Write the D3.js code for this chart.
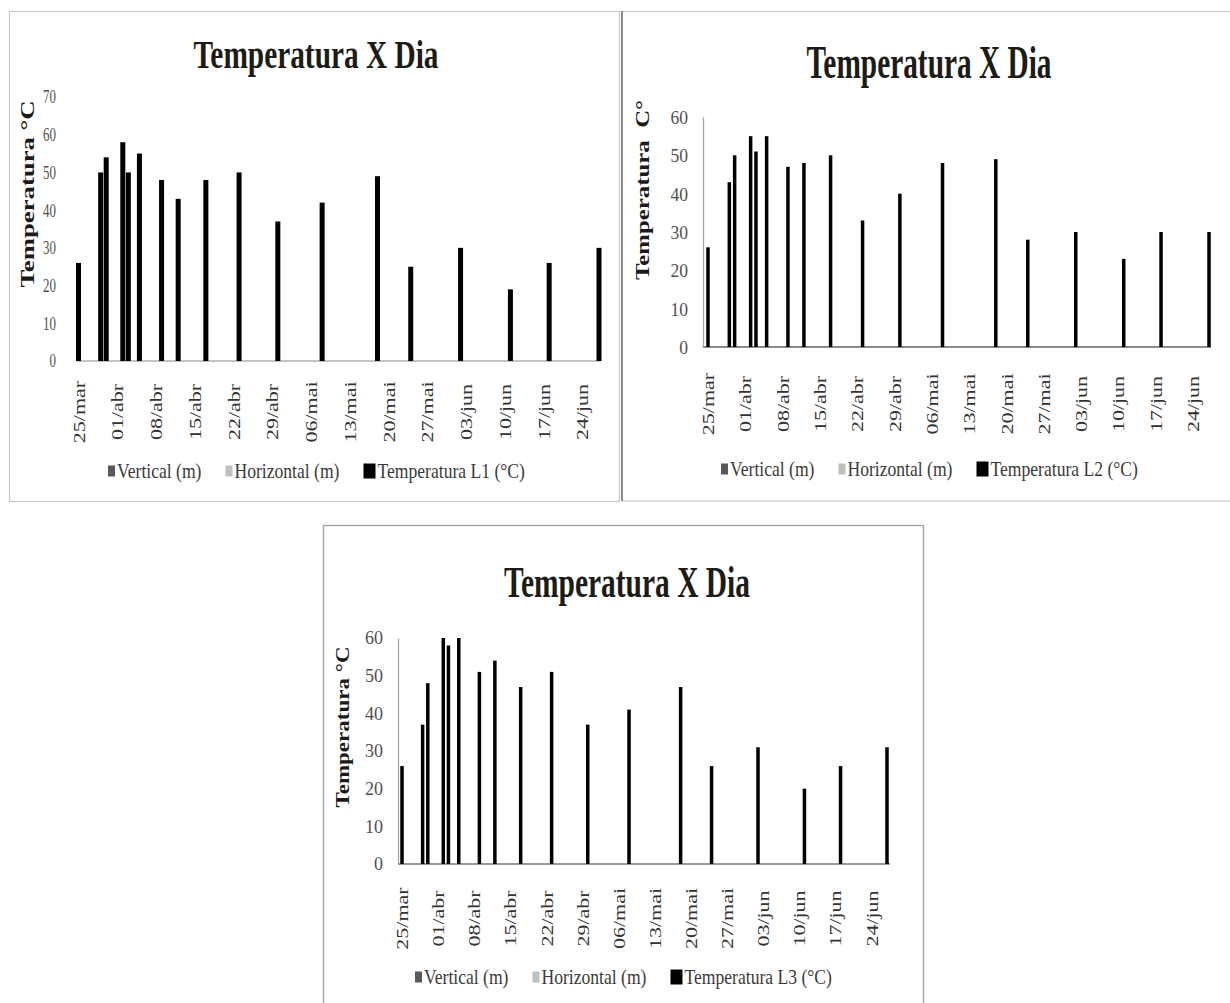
<!DOCTYPE html>
<html>
<head>
<meta charset="utf-8">
<script src="https://cdn.jsdelivr.net/npm/d3@7"></script>
<style>
  body { margin: 0; background: #fff; }
  svg { display: block; }
</style>
</head>
<body>
<svg id="fig" width="1230" height="1003"></svg>
<script>
// data
var meses = ["jan", "fev", "mar", "abr", "mai", "jun", "jul", "ago", "set", "out", "nov", "dez"];
var dias = ["25/mar", "29/mar", "30/mar", "02/abr", "03/abr", "05/abr", "09/abr", "12/abr", "17/abr",
            "23/abr", "30/abr", "08/mai", "18/mai", "24/mai", "02/jun", "11/jun", "18/jun", "27/jun"];
var tempL1 = [26, 50, 54, 58, 50, 55, 48, 43, 48, 50, 37, 42, 49, 25, 30, 19, 26, 30];
var tempL2 = [26, 43, 50, 55, 51, 55, 47, 48, 50, 33, 40, 48, 49, 28, 30, 23, 30, 30];
var tempL3 = [26, 37, 48, 60, 58, 60, 51, 54, 47, 51, 37, 41, 47, 26, 31, 20, 26, 31];
var tickLabels = ["25/mar", "01/abr", "08/abr", "15/abr", "22/abr", "29/abr", "06/mai", "13/mai",
                  "20/mai", "27/mai", "03/jun", "10/jun", "17/jun", "24/jun"];
var yTicks70 = [0, 10, 20, 30, 40, 50, 60, 70];
var yTicks60 = [0, 10, 20, 30, 40, 50, 60];
var legendL1 = ["Vertical (m)", "Horizontal (m)", "Temperatura L1 (°C)"];
var legendL2 = ["Vertical (m)", "Horizontal (m)", "Temperatura L2 (°C)"];
var legendL3 = ["Vertical (m)", "Horizontal (m)", "Temperatura L3 (°C)"];
var legendColors = ["#595959", "#bfbfbf", "#000000"];
var chartTitle = "Temperatura X Dia";

var SERIF = "'Liberation Serif', 'Times New Roman', serif";
var svg = d3.select("#fig");

function parseDia(s) {
    var p = s.split("/");
    return new Date(2013, meses.indexOf(p[1]), +p[0]);
}

// panel frames
svg.append("rect").attr("x", 9.5).attr("y", 11.5).attr("width", 610).attr("height", 490)
    .attr("fill", "none").attr("stroke", "#c8c8c8").attr("stroke-width", 1.2);
svg.append("rect").attr("x", 622).attr("y", 11.5).attr("width", 620).attr("height", 489.5)
    .attr("fill", "none").attr("stroke", "#c8c8c8").attr("stroke-width", 1.2);
svg.append("line").attr("x1", 622).attr("x2", 622).attr("y1", 11).attr("y2", 501)
    .attr("stroke", "#8c8c8c").attr("stroke-width", 2);
svg.append("rect").attr("x", 323.5).attr("y", 525.5).attr("width", 600).attr("height", 500)
    .attr("fill", "none").attr("stroke", "#a6a6a6").attr("stroke-width", 1.4);

function drawChart(cfg) {
    var g = svg.append("g");

    var x = d3.scaleTime()
        .domain([parseDia(dias[0]), parseDia(dias[dias.length - 1])])
        .range([cfg.barX0, cfg.barX1]);
    var y = d3.scaleLinear().domain([0, cfg.yMax]).range([cfg.y0, cfg.yTop]);

    // title
    g.append("text")
        .attr("x", cfg.titleX).attr("y", cfg.titleY)
        .attr("text-anchor", "middle")
        .attr("font-family", SERIF).attr("font-weight", "bold")
        .attr("font-size", cfg.titleSize)
        .attr("textLength", cfg.titleLen).attr("lengthAdjust", "spacingAndGlyphs")
        .attr("fill", "#1c1c17")
        .text(chartTitle);

    // y axis
    var yAxis = g.append("g")
        .attr("transform", "translate(" + cfg.axisX0 + ",0)")
        .call(d3.axisLeft(y).tickValues(cfg.yTicks).tickSize(0).tickSizeOuter(0).tickFormat(d3.format("d")));
    if (cfg.yLine) {
        yAxis.select(".domain").attr("stroke", "#a6a6a6").attr("stroke-width", 1.3);
    } else {
        yAxis.select(".domain").remove();
    }
    yAxis.selectAll(".tick text")
        .attr("x", 0).attr("dy", "0.33em")
        .attr("transform", "translate(" + (-cfg.yLabelGap) + ",0) scale(" + cfg.yLabelSx + ",1)")
        .attr("font-family", SERIF).attr("font-size", cfg.yLabelSize)
        .attr("fill", "#505050");

    // x axis line and date labels
    g.append("line")
        .attr("x1", cfg.axisX0).attr("x2", cfg.axisX1)
        .attr("y1", y(0)).attr("y2", y(0))
        .attr("stroke", cfg.xLineColor).attr("stroke-width", cfg.xLineWidth);

    var xAxis = g.append("g")
        .attr("transform", "translate(0," + y(0) + ")")
        .call(d3.axisBottom(x)
            .tickValues(tickLabels.map(parseDia))
            .tickFormat(function(d, i) { return tickLabels[i]; })
            .tickSize(0).tickSizeOuter(0));
    xAxis.select(".domain").remove();
    xAxis.selectAll(".tick text")
        .attr("y", 0).attr("dy", "0.35em")
        .attr("text-anchor", "middle")
        .attr("transform", "translate(0," + cfg.xLabelMid + ") rotate(-90) scale(1,0.72)")
        .attr("font-family", SERIF).attr("font-size", 22)
        .attr("fill", "#333333");

    // bars
    g.selectAll("rect.bar")
        .data(cfg.values)
        .enter().append("rect")
        .attr("class", "bar")
        .attr("x", function(d, i) { return x(parseDia(dias[i])) - cfg.barW / 2; })
        .attr("y", function(d) { return y(d); })
        .attr("width", cfg.barW)
        .attr("height", function(d) { return y(0) - y(d); })
        .attr("fill", "#000");

    // y axis title
    g.append("text")
        .attr("transform", "translate(" + cfg.yTitleX + "," + cfg.yTitleY + ") rotate(-90)")
        .attr("dy", "0.35em")
        .attr("text-anchor", "middle")
        .attr("font-family", SERIF).attr("font-weight", "bold")
        .attr("font-size", cfg.yTitleSize)
        .attr("textLength", cfg.yTitleLen).attr("lengthAdjust", "spacingAndGlyphs")
        .attr("fill", "#1a1a1a")
        .style("white-space", "pre")
        .text(cfg.yTitle);

    // legend
    var lg = g.append("g"), cursor = cfg.legendX;
    cfg.legend.forEach(function(label, i) {
        var mw = i === 2 ? 12 : 7, mh = i === 2 ? 15 : 11;
        lg.append("rect")
            .attr("x", cursor).attr("y", cfg.legendY - 7 - mh / 2)
            .attr("width", mw).attr("height", mh)
            .attr("fill", legendColors[i]);
        var t = lg.append("text")
            .attr("transform", "translate(" + (cursor + mw + 2) + "," + cfg.legendY + ") scale(0.8,1)")
            .attr("font-family", SERIF).attr("font-size", 22)
            .attr("fill", "#3a3a3a")
            .text(label);
        cursor += mw + 2 + t.node().getComputedTextLength() * 0.8 + 24;
    });
}

drawChart({
    values: tempL1, yMax: 70, yTicks: yTicks70, legend: legendL1, yTitle: "Temperatura °C",
    axisX0: 77, axisX1: 600, barX0: 78.5, barX1: 599, y0: 361, yTop: 97, barW: 5,
    yLine: false, yLabelGap: 21, yLabelSx: 0.72, yLabelSize: 18,
    xLineColor: "#b0b0b0", xLineWidth: 1.5, xLabelMid: 51,
    titleX: 316, titleY: 68, titleSize: 41, titleLen: 245,
    yTitleX: 27, yTitleY: 194, yTitleSize: 19.5, yTitleLen: 187,
    legendX: 108, legendY: 478
});

drawChart({
    values: tempL2, yMax: 60, yTicks: yTicks60, legend: legendL2, yTitle: "Temperatura  C°",
    axisX0: 703, axisX1: 1211, barX0: 708, barX1: 1209, y0: 347, yTop: 117, barW: 3.5,
    yLine: true, yLabelGap: 15, yLabelSx: 0.9, yLabelSize: 19.5,
    xLineColor: "#8c8c8c", xLineWidth: 2, xLabelMid: 57,
    titleX: 929, titleY: 78, titleSize: 46, titleLen: 245,
    yTitleX: 642, yTitleY: 190, yTitleSize: 19, yTitleLen: 180,
    legendX: 721, legendY: 476
});

drawChart({
    values: tempL3, yMax: 60, yTicks: yTicks60, legend: legendL3, yTitle: "Temperatura °C",
    axisX0: 398, axisX1: 890, barX0: 402, barX1: 887, y0: 864, yTop: 638, barW: 3.5,
    yLine: true, yLabelGap: 15, yLabelSx: 1.0, yLabelSize: 18,
    xLineColor: "#9a9a9a", xLineWidth: 1.8, xLabelMid: 54.5,
    titleX: 627, titleY: 597, titleSize: 44, titleLen: 246,
    yTitleX: 343, yTitleY: 727, yTitleSize: 18, yTitleLen: 161,
    legendX: 415, legendY: 984
});
</script>
</body>
</html>
